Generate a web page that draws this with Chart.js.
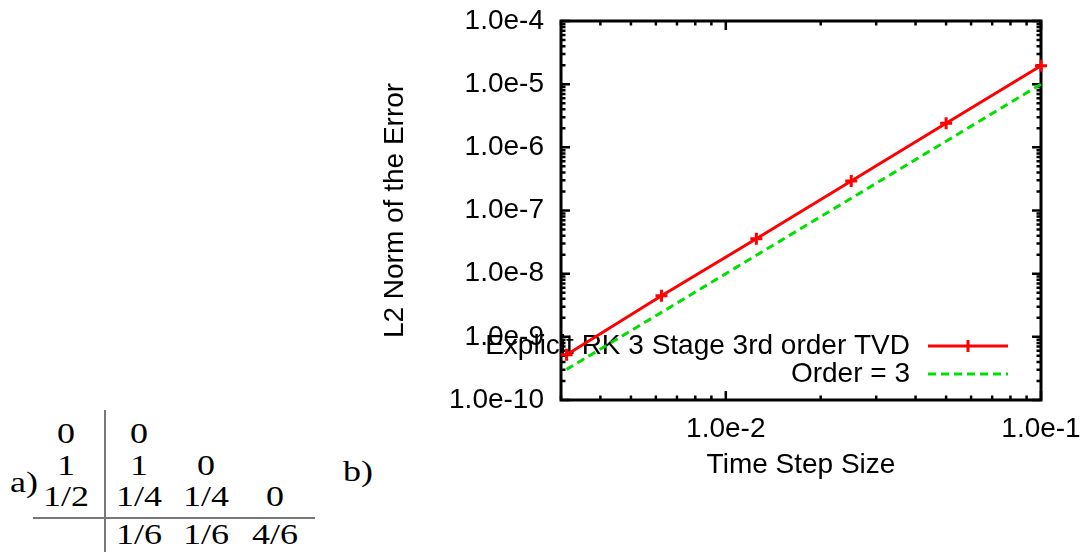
<!DOCTYPE html>
<html>
<head>
<meta charset="utf-8">
<script src="https://cdn.jsdelivr.net/npm/chart.js@4.4.1/dist/chart.umd.min.js"></script>
<style>
  html, body { margin: 0; padding: 0; background: #fff; }
  body { width: 1086px; height: 552px; position: relative; overflow: hidden; }
  #wrap { position: absolute; left: 370px; top: 0; width: 716px; height: 552px; }
  #wrap canvas { display: block; }
  .tb { position: absolute; font-family: "Liberation Serif", serif; font-size: 30px; line-height: 30px;
        color: #000; white-space: nowrap; transform: translate(-50%, -50%) scaleX(1.2); }
  .rule { position: absolute; background: #777; }
</style>
</head>
<body>
<div id="tableau"></div>
<div id="wrap"><canvas id="myChart" width="716" height="552"></canvas></div>
<script>
// time step sizes and measured L2 errors
var steps = [0.1, 0.05, 0.025, 0.0125, 0.00625, 0.003125];
var rkError = [1.96e-5, 2.41e-6, 2.94e-7, 3.56e-8, 4.46e-9, 5.2e-10];
var orderThree = [1.0e-5, 1.25e-6, 1.5625e-7, 1.953e-8, 2.441e-9, 3.05e-10];
var xTicks = [0.01, 0.1];
var yTicks = [1e-10, 1e-9, 1e-8, 1e-7, 1e-6, 1e-5, 1e-4];

// Butcher tableau text (row, column, text)
var tabRows = [433, 465, 496, 534];
var tabCols = [66, 139, 206, 275];
var tabCells = [
  [0, 0, "0"], [0, 1, "0"],
  [1, 0, "1"], [1, 1, "1"], [1, 2, "0"],
  [2, 0, "1/2"], [2, 1, "1/4"], [2, 2, "1/4"], [2, 3, "0"],
  [3, 1, "1/6"], [3, 2, "1/6"], [3, 3, "4/6"]
];

var tab = document.getElementById("tableau");
function put(txt, x, y) {
  var s = document.createElement("span");
  s.className = "tb";
  s.textContent = txt;
  s.style.left = x + "px";
  s.style.top = y + "px";
  tab.appendChild(s);
}
tabCells.forEach(function (c) { put(c[2], tabCols[c[1]], tabRows[c[0]]); });
put("a)", 24, 482);
put("b)", 358, 471);
var v = document.createElement("div");
v.className = "rule";
v.style.cssText = "left:104px;top:410px;width:2px;height:142px;";
tab.appendChild(v);
var h = document.createElement("div");
h.className = "rule";
h.style.cssText = "left:33px;top:517px;width:282px;height:2px;";
tab.appendChild(h);

var font = "'Liberation Sans', Arial, sans-serif";

function decadeTicks(scale) {
  var lo = Math.floor(Math.log10(scale.min) + 1e-9), hi = Math.ceil(Math.log10(scale.max) - 1e-9);
  var out = [];
  for (var e = lo; e <= hi; e++) {
    for (var m = 1; m <= 9; m++) {
      var val = m * Math.pow(10, e);
      if (val >= scale.min * 0.9999 && val <= scale.max * 1.0001) out.push({ v: val, major: m === 1 });
    }
  }
  return out;
}

// no extra padding for overhanging labels, the layout padding decides the plot box
function noPad(s) {
  s.paddingTop = 0; s.paddingBottom = 0; s.paddingLeft = 0; s.paddingRight = 0;
}

var frame = {
  id: "frame",
  beforeDatasetsDraw: function (chart) {
    var c = chart.ctx, a = chart.chartArea, xs = chart.scales.x, ys = chart.scales.y;
    c.save();
    c.strokeStyle = "#000";
    c.lineWidth = 2.5;
    c.beginPath();
    decadeTicks(xs).forEach(function (t) {
      var px = xs.getPixelForValue(t.v), len = t.major ? 9 : 4.5;
      c.moveTo(px, a.bottom); c.lineTo(px, a.bottom - len);
      c.moveTo(px, a.top); c.lineTo(px, a.top + len);
    });
    decadeTicks(ys).forEach(function (t) {
      var py = ys.getPixelForValue(t.v), len = t.major ? 9 : 4.5;
      c.moveTo(a.left, py); c.lineTo(a.left + len, py);
      c.moveTo(a.right, py); c.lineTo(a.right - len, py);
    });
    c.stroke();
    c.lineWidth = 3;
    c.strokeRect(a.left, a.top, a.right - a.left, a.bottom - a.top);

    // key, gnuplot style: text then sample line
    c.font = "28px " + font;
    c.textAlign = "right";
    c.textBaseline = "middle";
    c.fillStyle = "#000";
    chart.data.datasets.forEach(function (ds, i) {
      var y = a.bottom - 54 + i * 28;
      c.fillText(ds.label, a.right - 131, y);
      c.strokeStyle = ds.borderColor;
      c.lineWidth = ds.borderWidth;
      c.setLineDash(ds.borderDash || []);
      c.beginPath();
      c.moveTo(a.right - 113, y); c.lineTo(a.right - 33, y);
      c.stroke();
      c.setLineDash([]);
      if (ds.pointRadius > 0) {
        var mx = a.right - 73;
        c.beginPath();
        c.moveTo(mx, y - ds.pointRadius); c.lineTo(mx, y + ds.pointRadius);
        c.stroke();
      }
    });
    c.restore();
  }
};

var ctx = document.getElementById("myChart");
var myChart = new Chart(ctx, {
  type: "line",
  data: {
    datasets: [{
      label: "Explicit RK 3 Stage 3rd order TVD",
      data: steps.map(function (s, i) { return { x: s, y: rkError[i] }; }),
      borderColor: "#ff0000",
      backgroundColor: "#ff0000",
      borderWidth: 3,
      pointStyle: "cross",
      pointRadius: 6,
      pointBorderWidth: 3,
      pointBorderColor: "#ff0000",
      fill: false,
      clip: false
    }, {
      label: "Order = 3",
      data: steps.map(function (s, i) { return { x: s, y: orderThree[i] }; }),
      borderColor: "#00e000",
      borderWidth: 3,
      borderDash: [8, 5],
      pointRadius: 0,
      fill: false,
      clip: false
    }]
  },
  options: {
    responsive: false,
    animation: false,
    layout: { padding: { top: 21, right: 45, bottom: 66, left: 0 } },
    plugins: { legend: { display: false }, tooltip: { enabled: false } },
    scales: {
      x: {
        type: "logarithmic",
        min: 0.003,
        max: 0.1,
        grid: { display: false, drawTicks: false },
        border: { display: false },
        ticks: {
          autoSkip: false, padding: 12, color: "#000", maxRotation: 0,
          font: { family: font, size: 28 },
          callback: function (val) { return Number(val).toExponential(1); }
        },
        title: { display: true, text: "Time Step Size", color: "#000", font: { family: font, size: 28 }, padding: { top: 4, bottom: 4 } },
        afterBuildTicks: function (s) { s.ticks = xTicks.map(function (t) { return { value: t }; }); },
        afterFit: function (s) { s.height = 86; noPad(s); }
      },
      y: {
        type: "logarithmic",
        min: 1e-10,
        max: 1e-4,
        grid: { display: false, drawTicks: false },
        border: { display: false },
        ticks: {
          autoSkip: false, padding: 17, color: "#000",
          font: { family: font, size: 28 },
          callback: function (val) { return Number(val).toExponential(1); }
        },
        title: { display: true, text: "L2 Norm of the Error", color: "#000", font: { family: font, size: 28 }, padding: { top: 8, bottom: 4 } },
        afterBuildTicks: function (s) { s.ticks = yTicks.map(function (t) { return { value: t }; }); },
        afterFit: function (s) { s.width = 191; noPad(s); }
      }
    }
  },
  plugins: [frame]
});
</script>
</body>
</html>
